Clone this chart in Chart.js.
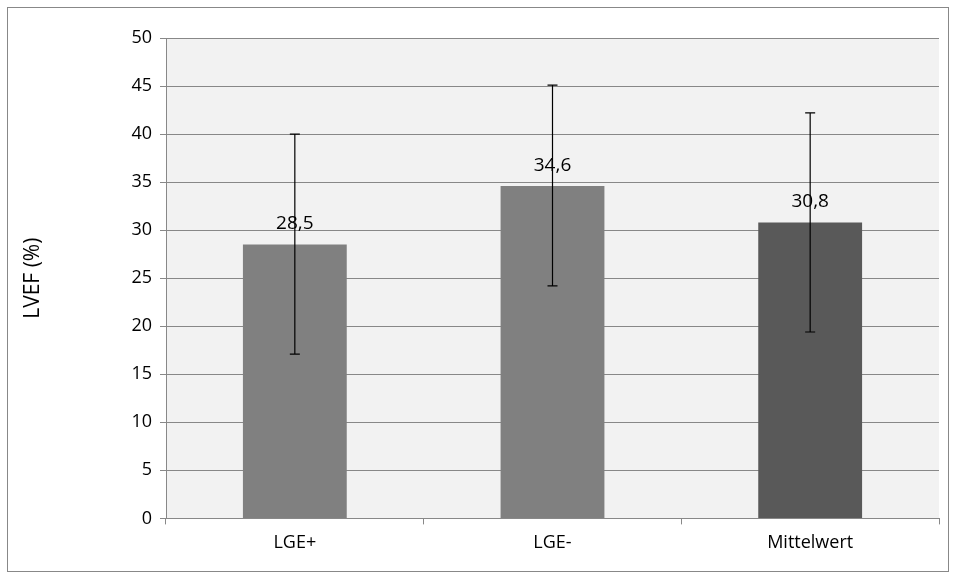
<!DOCTYPE html>
<html><head><meta charset="utf-8">
<script src="https://cdn.jsdelivr.net/npm/chart.js@4"></script>
<style>html,body{margin:0;background:#fff}#wrap{position:absolute;left:7px;top:7px;width:942px;height:565px;border:1px solid #888;box-sizing:border-box}</style>
</head><body><div id="wrap"><canvas id="c" width="940" height="563"></canvas></div>
<script>
const categories=["LGE+","LGE-","Mittelwert"];
const values=[28.5,34.6,30.8];
const errLow=[17.1,24.2,19.4];
const errHigh=[40.0,45.1,42.2];
const labels=["28,5","34,6","30,8"];
const colors=["#808080","#808080","#595959"];
const F="'Open Sans', 'Liberation Sans', sans-serif";
const bgPlugin={id:'bg',beforeDraw(ch){const a=ch.chartArea,x=ch.ctx;x.save();x.fillStyle='#f2f2f2';x.fillRect(a.left,a.top,a.right-a.left,a.bottom-a.top);x.restore();}};
const errPlugin={id:'err',afterDatasetsDraw(ch){const x=ch.ctx,ys=ch.scales.y,m=ch.getDatasetMeta(0);x.save();
m.data.forEach((b,i)=>{const cx=b.x,y1=ys.getPixelForValue(errLow[i]),y2=ys.getPixelForValue(errHigh[i]);
x.strokeStyle='#000';x.lineWidth=1.2;x.beginPath();x.moveTo(cx,y1);x.lineTo(cx,y2);x.moveTo(cx-5,y1);x.lineTo(cx+5,y1);x.moveTo(cx-5,y2);x.lineTo(cx+5,y2);x.stroke();
x.fillStyle='#000';x.font='19px '+F;x.textAlign='center';x.textBaseline='bottom';x.fillText(labels[i],cx,b.y-11);});x.restore();}};
new Chart(document.getElementById('c'),{type:'bar',data:{labels:categories,datasets:[{data:values,backgroundColor:colors,barPercentage:1,categoryPercentage:0.403}]},
options:{responsive:false,animation:false,layout:{padding:{left:8,right:9,top:30,bottom:9}},plugins:{legend:{display:false},tooltip:{enabled:false}},
scales:{x:{grid:{display:true,drawOnChartArea:false,color:'#888',tickLength:6,offset:true},border:{color:'#888'},ticks:{color:'#000',font:{size:18,family:F},padding:8}},
y:{min:0,max:50,afterFit(s){s.width=150;},ticks:{stepSize:5,color:'#000',font:{size:18,family:F},padding:8},grid:{color:'#888',tickLength:6},border:{color:'#888'},
title:{display:true,text:'LVEF (%)',color:'#000',font:{size:21,family:F},padding:{bottom:20}}}}},plugins:[bgPlugin,errPlugin]});
</script></body></html>
